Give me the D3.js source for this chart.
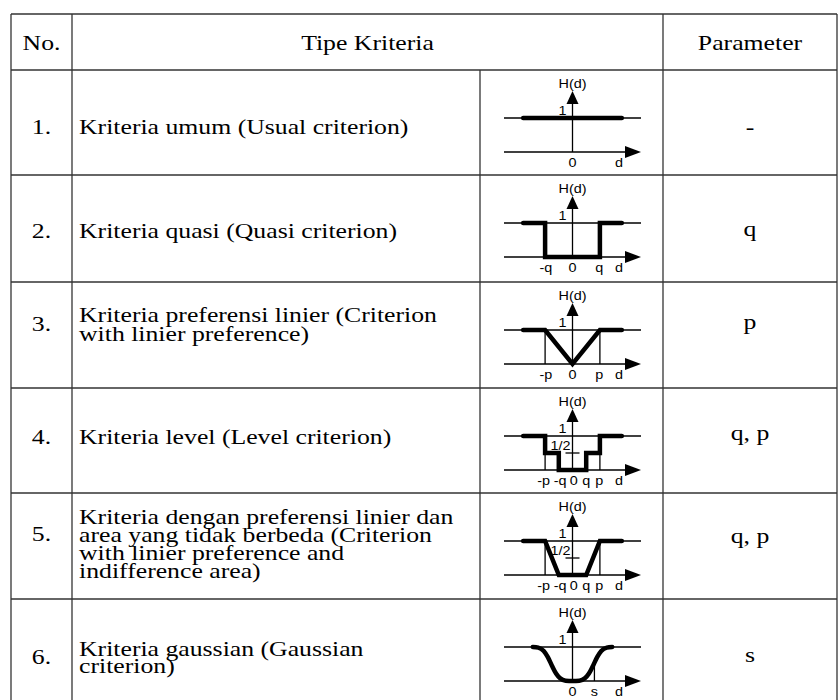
<!DOCTYPE html>
<html><head><meta charset="utf-8">
<script src="https://cdn.jsdelivr.net/npm/d3@7"></script>
<style>body{margin:0;background:#fff}</style>
</head><body><svg id="c" width="838" height="700"></svg>
<script>
// ---------- DATA ----------
const headers = ["No.", "Tipe Kriteria", "Parameter"];
const numbers = ["1.", "2.", "3.", "4.", "5.", "6."];
const criteriaLines = [
  ["Kriteria umum (Usual criterion)"],
  ["Kriteria quasi (Quasi criterion)"],
  ["Kriteria preferensi linier (Criterion", "with linier preference)"],
  ["Kriteria level (Level criterion)"],
  ["Kriteria dengan preferensi linier dan", "area yang tidak berbeda (Criterion", "with linier preference and", "indifference area)"],
  ["Kriteria gaussian (Gaussian", "criterion)"]
];
const parameters = ["-", "q", "p", "q, p", "q, p", "s"];

// preference functions H(d): [d, H] pairs
const usualCurve = [[-3.6, 1], [3.6, 1]];
const quasiCurve = [[-3.6, 1], [-2, 1], [-2, 0], [2, 0], [2, 1], [3.6, 1]];
const linearCurve = [[-3.6, 1], [-2, 1], [0, 0], [2, 1], [3.6, 1]];
const levelCurve = [[-3.6, 1], [-2, 1], [-2, 0.5], [-1, 0.5], [-1, 0], [1, 0], [1, 0.5], [2, 0.5], [2, 1], [3.6, 1]];
const linearIndiffCurve = [[-3.6, 1], [-2, 1], [-1, 0], [1, 0], [2, 1], [3.6, 1]];
const gaussianCurve = [[-2.9, 1], [-2.5, 0.98], [-2.1, 0.88], [-1.8, 0.7], [-1.5, 0.45], [-1.2, 0.22], [-0.9, 0.08], [-0.5, 0.01], [0, 0],
                       [0.5, 0.01], [0.9, 0.08], [1.2, 0.22], [1.5, 0.45], [1.8, 0.7], [2.1, 0.88], [2.5, 0.98], [2.9, 1]];
const curves = [usualCurve, quasiCurve, linearCurve, levelCurve, linearIndiffCurve, gaussianCurve];

// thin helper verticals [d, Hfrom, Hto]
const guideLines = [
  [],
  [],
  [[-2, 0, 1], [2, 0, 1]],
  [[-2, 0, 1], [2, 0, 1]],
  [[-2, 0, 1], [2, 0, 1]],
  [[1.6, 0, 0.6]]
];
const halfTick = [false, false, false, true, true, false];
// axis tick labels under the base axis: [label, d]
const tickLabels = [
  [["0", 0], ["d", 3.4]],
  [["-q", -1.95], ["0", 0], ["q", 1.95], ["d", 3.4]],
  [["-p", -1.95], ["0", 0], ["p", 1.95], ["d", 3.4]],
  [["-p", -2.1], ["-q", -0.9], ["0", 0.1], ["q", 1.0], ["p", 1.95], ["d", 3.4]],
  [["-p", -2.1], ["-q", -0.9], ["0", 0.1], ["q", 1.0], ["p", 1.95], ["d", 3.4]],
  [["0", 0], ["s", 1.6], ["d", 3.4]]
];

// ---------- LAYOUT ----------
const svg = d3.select("#c");
const SX = 1.17;
const colX = [11, 72, 480, 663, 837];
const rowY = [14, 70, 175, 282, 388, 493, 599, 712];
const serif = "'Liberation Serif','Times New Roman',serif";
const sans = "'Liberation Sans',Arial,sans-serif";
const lineCol = "#333";

function txt(x, y, s, anchor, font, size, sx) {
  svg.append("text")
    .attr("transform", `translate(${x},${y}) scale(${sx},1)`)
    .attr("text-anchor", anchor)
    .style("font-family", font).style("font-size", size + "px").style("fill", "#000")
    .text(s);
}

// table grid
const grid = svg.append("g").attr("stroke", lineCol).attr("stroke-width", 1.3);
rowY.slice(0, -1).forEach(yv => grid.append("line").attr("x1", colX[0]).attr("x2", colX[4]).attr("y1", yv).attr("y2", yv));
[colX[0], colX[1], colX[3], colX[4]].forEach(xv => grid.append("line").attr("x1", xv).attr("x2", xv).attr("y1", rowY[0]).attr("y2", rowY[rowY.length - 1]));
grid.append("line").attr("x1", colX[2]).attr("x2", colX[2]).attr("y1", rowY[1]).attr("y2", rowY[rowY.length - 1]);

// headers
txt((colX[0] + colX[1]) / 2, 50, headers[0], "middle", serif, 22, SX);
txt((colX[1] + colX[3]) / 2, 50, headers[1], "middle", serif, 22, SX);
txt((colX[3] + colX[4]) / 2, 50, headers[2], "middle", serif, 22, SX);

// text baselines per row
const lineBase = [[134], [238], [322, 341], [444], [524, 542, 560, 578], [656, 673]];
const numBase = [134, 238, 331, 444, 541, 664];
const paramBase = [134, 236, 329, 440, 543, 662];

numbers.forEach((n, i) => {
  txt((colX[0] + colX[1]) / 2, numBase[i], n, "middle", serif, 22, SX);
  criteriaLines[i].forEach((l, j) => txt(79, lineBase[i][j], l, "start", serif, 22, SX));
  txt((colX[3] + colX[4]) / 2, paramBase[i], parameters[i], "middle", serif, 22, SX);
});

// mini charts
const x = d3.scaleLinear().domain([-5, 5]).range([504, 641]);
curves.forEach((curve, i) => {
  const top = rowY[i + 1];
  const y = d3.scaleLinear().domain([0, 1]).range([top + 82, top + 48]);
  const g = svg.append("g");
  const thin = (x1, y1, x2, y2) => g.append("line").attr("x1", x1).attr("y1", y1).attr("x2", x2).attr("y2", y2)
    .attr("stroke", "#000").attr("stroke-width", 1.3);
  thin(x(-5), y(1), x(5), y(1));
  thin(x(-5), y(0), x(5) - 8, y(0));
  g.append("path").attr("d", `M${x(5)},${y(0)} L${x(5) - 16},${y(0) - 6} L${x(5) - 16},${y(0) + 6} Z`).attr("fill", "#000");
  const tipY = top + 21;
  thin(x(0), y(0), x(0), tipY + 6);
  g.append("path").attr("d", `M${x(0)},${tipY} L${x(0) - 6},${tipY + 13} L${x(0) + 6},${tipY + 13} Z`).attr("fill", "#000");
  guideLines[i].forEach(gl => thin(x(gl[0]), y(gl[1]), x(gl[0]), y(gl[2])));
  if (halfTick[i]) thin(x(0) - 7, y(0.5), x(0) + 7, y(0.5));
  const line = d3.line().x(d => x(d[0])).y(d => y(d[1]))
    .curve(i === 5 ? d3.curveMonotoneX : d3.curveLinear);
  g.append("path").attr("d", line(curve)).attr("fill", "none").attr("stroke", "#000")
    .attr("stroke-width", 4.5).attr("stroke-linecap", "round").attr("stroke-linejoin", "miter");
  txt(x(0), top + 18, "H(d)", "middle", sans, 12, 1.2);
  txt(x(0) - 10, y(1) - 3, "1", "middle", sans, 12, 1.2);
  if (halfTick[i]) txt(x(0) - 12, y(0.5) - 3, "1/2", "middle", sans, 12, 1.2);
  tickLabels[i].forEach(t => txt(x(t[1]), y(0) + 15, t[0], "middle", sans, 12, 1.2));
});
</script>
</body></html>
